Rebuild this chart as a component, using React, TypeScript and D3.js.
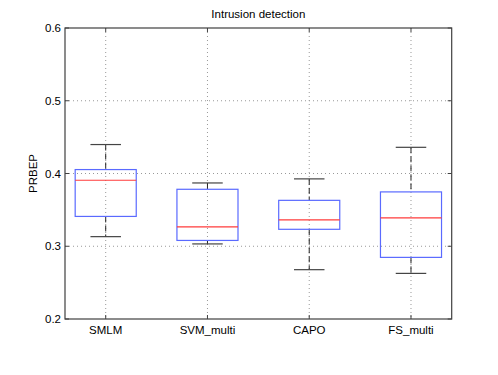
import React from "react";
import * as d3 from "d3";

const categories = ["SMLM", "SVM_multi", "CAPO", "FS_multi"];
const whiskerHigh = [0.4398, 0.387, 0.3926, 0.436];
const q3 = [0.4054, 0.3783, 0.3631, 0.3747];
const median = [0.3907, 0.3266, 0.3362, 0.3389];
const q1 = [0.341, 0.308, 0.3233, 0.2847];
const whiskerLow = [0.3132, 0.3032, 0.2678, 0.2627];
const yTicks = [0.2, 0.3, 0.4, 0.5, 0.6];
const title = "Intrusion detection";
const yLabel = "PRBEP";

const W = 498;
const H = 375;
const left = 65;
const right = 451.7;
const top = 28;
const bottom = 319;

export default function App() {
  const x = d3.scaleLinear().domain([0.6, 4.4]).range([left, right]);
  const y = d3.scaleLinear().domain([0.2, 0.6]).range([bottom, top]);
  const font = "'Liberation Sans', Arial, Helvetica, sans-serif";
  const fs = 11.5;
  const tickLen = 4;
  const axisColor = "#404040";

  return (
    <svg
      width={W}
      height={H}
      style={{ position: "absolute", left: 0, top: 0, background: "#fff" }}
      fontFamily={font}
    >
      <rect x={0} y={0} width={W} height={H} fill="#fff" />
      {/* grid */}
      {yTicks.slice(1, -1).map((t) => (
        <line
          key={"gy" + t}
          x1={left}
          x2={right}
          y1={y(t)}
          y2={y(t)}
          stroke="#999"
          strokeWidth={1}
          strokeDasharray="1,3"
        />
      ))}
      {categories.map((c, i) => (
        <line
          key={"gx" + c}
          x1={x(i + 1)}
          x2={x(i + 1)}
          y1={top}
          y2={bottom}
          stroke="#999"
          strokeWidth={1}
          strokeDasharray="1,3"
        />
      ))}
      {/* boxes */}
      {categories.map((c, i) => {
        const cx = x(i + 1);
        const bw = x(1.3) - x(1);
        const cw = x(1.15) - x(1);
        return (
          <g key={c}>
            <line x1={cx} x2={cx} y1={y(whiskerHigh[i])} y2={y(q3[i])} stroke="#222" strokeWidth={1} strokeDasharray="6,3" />
            <line x1={cx} x2={cx} y1={y(q1[i])} y2={y(whiskerLow[i])} stroke="#222" strokeWidth={1} strokeDasharray="6,3" />
            <line x1={cx - cw} x2={cx + cw} y1={y(whiskerHigh[i])} y2={y(whiskerHigh[i])} stroke="#444" strokeWidth={1.2} />
            <line x1={cx - cw} x2={cx + cw} y1={y(whiskerLow[i])} y2={y(whiskerLow[i])} stroke="#444" strokeWidth={1.2} />
            <rect
              x={cx - bw}
              y={y(q3[i])}
              width={2 * bw}
              height={y(q1[i]) - y(q3[i])}
              fill="none"
              stroke="#5a6aff"
              strokeWidth={1.2}
            />
            <line x1={cx - bw} x2={cx + bw} y1={y(median[i])} y2={y(median[i])} stroke="#ff3b3b" strokeWidth={1.2} />
          </g>
        );
      })}
      {/* axes box */}
      <rect x={left} y={top} width={right - left} height={bottom - top} fill="none" stroke={axisColor} strokeWidth={1.2} />
      {/* y ticks */}
      {yTicks.map((t) => (
        <g key={"yt" + t}>
          <line x1={left} x2={left + tickLen} y1={y(t)} y2={y(t)} stroke={axisColor} />
          <line x1={right} x2={right - tickLen} y1={y(t)} y2={y(t)} stroke={axisColor} />
          <text x={left - 4} y={y(t)} dy="0.35em" textAnchor="end" fontSize={fs} fill="#000">
            {t.toFixed(1)}
          </text>
        </g>
      ))}
      {/* x ticks */}
      {categories.map((c, i) => (
        <g key={"xt" + c}>
          <line x1={x(i + 1)} x2={x(i + 1)} y1={bottom} y2={bottom - tickLen} stroke={axisColor} />
          <line x1={x(i + 1)} x2={x(i + 1)} y1={top} y2={top + tickLen} stroke={axisColor} />
          <text x={x(i + 1)} y={334} textAnchor="middle" fontSize={fs} fill="#000">
            {c}
          </text>
        </g>
      ))}
      <text x={(left + right) / 2} y={18} textAnchor="middle" fontSize={fs} fill="#000">
        {title}
      </text>
      <text
        transform={`translate(36.5,${(top + bottom) / 2}) rotate(-90)`}
        textAnchor="middle"
        fontSize={fs}
        fill="#000"
      >
        {yLabel}
      </text>
    </svg>
  );
}
